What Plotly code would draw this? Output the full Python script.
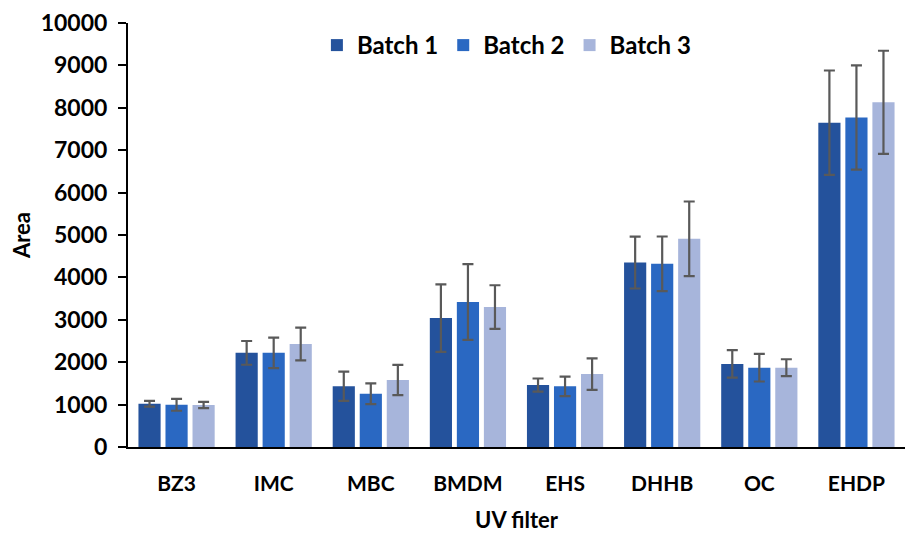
import plotly.graph_objects as go

categories = ["BZ3", "IMC", "MBC", "BMDM", "EHS", "DHHB", "OC", "EHDP"]
batch1 = [1020, 2220, 1435, 3040, 1460, 4350, 1960, 7650]
batch1_err = [70, 280, 345, 795, 155, 612, 325, 1230]
batch2 = [995, 2220, 1255, 3420, 1430, 4320, 1870, 7770]
batch2_err = [140, 360, 245, 895, 230, 645, 325, 1230]
batch3 = [990, 2430, 1580, 3300, 1720, 4910, 1870, 8130]
batch3_err = [75, 385, 357, 515, 372, 880, 200, 1215]
series_names = ["Batch 1", "Batch 2", "Batch 3"]
colors = ["#24529C", "#2A68C2", "#A7B5DB"]

FONT = "Lato"
fig = go.Figure()
for name, vals, errs, col in zip(series_names, [batch1, batch2, batch3],
                                 [batch1_err, batch2_err, batch3_err], colors):
    fig.add_trace(go.Bar(
        x=categories, y=vals, name=name, marker=dict(color=col, line=dict(width=0)),
        error_y=dict(type="data", array=errs, visible=True, color="#595959",
                     thickness=2.2, width=5.5),
    ))

fig.update_layout(
    width=909, height=533,
    margin=dict(l=128, r=4, t=23, b=86),
    paper_bgcolor="white", plot_bgcolor="white",
    barmode="group", bargap=0.165, bargroupgap=0.18,
    font=dict(family=FONT, color="black"),
    legend=dict(orientation="h", x=0.487, xanchor="center", y=1.0, yanchor="top",
                font=dict(family=FONT, size=24, color="black", weight="bold"),
                bgcolor="rgba(0,0,0,0)", itemwidth=30, traceorder="normal"),
    xaxis=dict(
        showline=True, linecolor="black", linewidth=2, ticks="", automargin=False,
        tickfont=dict(family=FONT, size=21, color="black", weight="bold"),
        ticklabelstandoff=17,
        title=dict(text="UV filter", font=dict(family=FONT, size=22, color="black", weight="bold"),
                   standoff=20),
        showgrid=False,
    ),
    yaxis=dict(
        range=[0, 10000], dtick=1000, tickformat="d", showline=True, linecolor="black", linewidth=2,
        ticks="outside", ticklen=8, tickwidth=1.5, tickcolor="black", automargin=False,
        tickfont=dict(family=FONT, size=23, color="black", weight="bold"),
        ticklabelstandoff=6,
        title=dict(text="Area", font=dict(family=FONT, size=22, color="black", weight="bold"),
                   standoff=4),
        showgrid=False, zeroline=False,
    ),
)
fig.write_html("out.html")
